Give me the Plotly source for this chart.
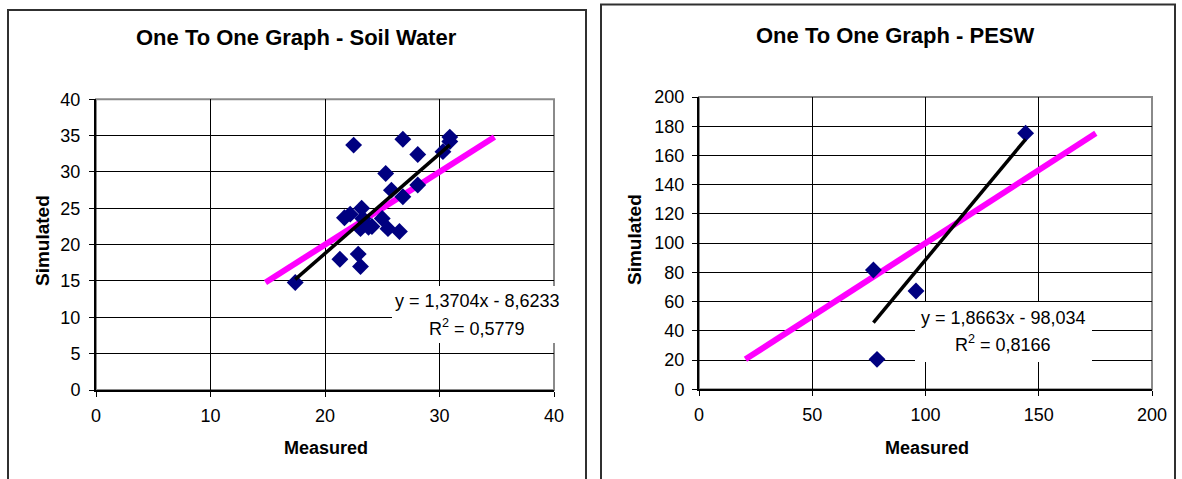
import plotly.graph_objects as go

# ---------------- data ----------------
sw_measured = [17.4, 21.3, 22.9, 23.1, 22.5, 21.7, 22.2, 23.2, 23.3, 23.1, 23.8, 24.1,
               25.0, 25.5, 26.5, 26.8, 25.3, 25.8, 28.1, 26.8, 28.1, 30.3, 30.9, 30.9]
sw_simulated = [14.8, 18.0, 18.7, 17.0, 33.7, 23.7, 24.2, 25.0, 23.6, 22.2, 22.4, 22.5,
                23.6, 22.2, 21.8, 26.6, 29.8, 27.5, 28.2, 34.5, 32.4, 32.8, 34.2, 34.8]
sw_slope, sw_intercept, sw_r2 = 1.3704, -8.6233, 0.5779

pesw_measured = [77.0, 95.8, 78.6, 144.2]
pesw_simulated = [81.6, 67.3, 20.5, 175.2]
pesw_slope, pesw_intercept, pesw_r2 = 1.8663, -98.034, 0.8166

sw_ticks_x = [0, 10, 20, 30, 40]
sw_ticks_y = [0, 5, 10, 15, 20, 25, 30, 35, 40]
pesw_ticks_x = [0, 50, 100, 150, 200]
pesw_ticks_y = [0, 20, 40, 60, 80, 100, 120, 140, 160, 180, 200]

titles = ["One To One Graph - Soil Water", "One To One Graph - PESW"]
x_title = "Measured"
y_title = "Simulated"

W, H = 1182, 479
FONT = "Liberation Sans, Arial, sans-serif"


def px(x):
    return x / W


def py(y):
    return 1 - y / H


def fmt(v, d):
    return f"{abs(v):.{d}f}".replace(".", ",")


fig = go.Figure()


def add_panel(meas, sim, slope, intercept, xr, yr):
    lo = min(min(meas), min(sim))
    hi = max(max(meas), max(sim))
    # 1:1 line
    fig.add_trace(go.Scatter(x=[lo, hi], y=[lo, hi], mode="lines",
                             line=dict(color="#FF00FF", width=6),
                             xaxis=xr, yaxis=yr, showlegend=False, hoverinfo="skip"))
    # points
    fig.add_trace(go.Scatter(x=meas, y=sim, mode="markers",
                             marker=dict(symbol="diamond", size=13, color="#000080"),
                             xaxis=xr, yaxis=yr, showlegend=False))
    # trend line
    x0, x1 = min(meas), max(meas)
    fig.add_trace(go.Scatter(x=[x0, x1], y=[slope * x0 + intercept, slope * x1 + intercept],
                             mode="lines", line=dict(color="#000000", width=3.5),
                             xaxis=xr, yaxis=yr, showlegend=False, hoverinfo="skip"))


add_panel(sw_measured, sw_simulated, sw_slope, sw_intercept, "x", "y")
add_panel(pesw_measured, pesw_simulated, pesw_slope, pesw_intercept, "x2", "y2")

axis_common = dict(showgrid=True, gridcolor="#000000", gridwidth=1,
                   showline=True, linecolor="#000000", linewidth=2,
                   ticks="outside", ticklen=5, tickcolor="#000000", tickwidth=1,
                   zeroline=False, tickfont=dict(family=FONT, size=18, color="#000000"),
                   fixedrange=True, automargin=False)

fig.update_layout(
    template="none",
    width=W, height=H, margin=dict(l=0, r=0, t=0, b=0, pad=0, autoexpand=False),
    autosize=False,
    paper_bgcolor="white", plot_bgcolor="white",
    xaxis=dict(domain=[px(96), px(554)], range=[0, 40], tickvals=sw_ticks_x,
               anchor="y", ticklabelstandoff=3, **axis_common),
    yaxis=dict(domain=[py(390), py(99.3)], range=[0, 40], tickvals=sw_ticks_y,
               anchor="x", ticklabelstandoff=5, **axis_common),
    xaxis2=dict(domain=[px(699), px(1152)], range=[0, 200], tickvals=pesw_ticks_x,
                anchor="y2", ticklabelstandoff=3, **axis_common),
    yaxis2=dict(domain=[py(389.3), py(97)], range=[0, 200], tickvals=pesw_ticks_y,
                anchor="x2", ticklabelstandoff=4, **axis_common),
)

shapes = []
# outer chart frames
shapes.append(dict(type="rect", xref="paper", yref="paper", x0=px(8), x1=px(586),
                   y0=py(495), y1=py(10), line=dict(color="#303030", width=2), layer="below"))
shapes.append(dict(type="rect", xref="paper", yref="paper", x0=px(601), x1=px(1175),
                   y0=py(495), y1=py(4.5), line=dict(color="#303030", width=2), layer="below"))
# gray plot-area borders (top/right)
for xr, yr in (("x", "y"), ("x2", "y2")):
    shapes.append(dict(type="rect", xref=f"{xr} domain", yref=f"{yr} domain",
                       x0=0, x1=1, y0=0, y1=1, line=dict(color="#8a8a8a", width=2),
                       layer="below"))
# white label boxes for equations
shapes.append(dict(type="rect", xref="paper", yref="paper", x0=px(392), x1=px(561),
                   y0=py(343), y1=py(286), fillcolor="white", line=dict(width=0), layer="above"))
shapes.append(dict(type="rect", xref="paper", yref="paper", x0=px(915), x1=px(1092),
                   y0=py(362), y1=py(302), fillcolor="white", line=dict(width=0), layer="above"))
fig.update_layout(shapes=shapes)

ann = []


def text(x, y, s, size, bold=False, angle=0):
    ann.append(dict(x=px(x), y=py(y), xref="paper", yref="paper", text=f"<b>{s}</b>" if bold else s,
                    showarrow=False, xanchor="center", yanchor="middle", textangle=angle,
                    font=dict(family=FONT, size=size, color="#000000")))


text(296, 37, titles[0], 22, bold=True)
text(895, 36, titles[1], 22, bold=True)
text(326, 448, x_title, 18, bold=True)
text(927, 448, x_title, 18, bold=True)
text(42, 241, y_title, 19, bold=True, angle=-90)
text(634, 240, y_title, 19, bold=True, angle=-90)

sgn = lambda v: "-" if v < 0 else "+"
text(477, 301, f"y = {fmt(sw_slope, 4)}x {sgn(sw_intercept)} {fmt(sw_intercept, 4)}", 18)
text(477, 327, f"R<sup>2</sup> = {fmt(sw_r2, 4)}", 18)
text(1003, 318, f"y = {fmt(pesw_slope, 4)}x {sgn(pesw_intercept)} {fmt(pesw_intercept, 3)}", 18)
text(1003, 343, f"R<sup>2</sup> = {fmt(pesw_r2, 4)}", 18)
fig.update_layout(annotations=ann)

fig.write_html("out.html", config={"displayModeBar": False},
               post_script="document.body.style.margin='0';document.body.style.overflow='hidden';")
